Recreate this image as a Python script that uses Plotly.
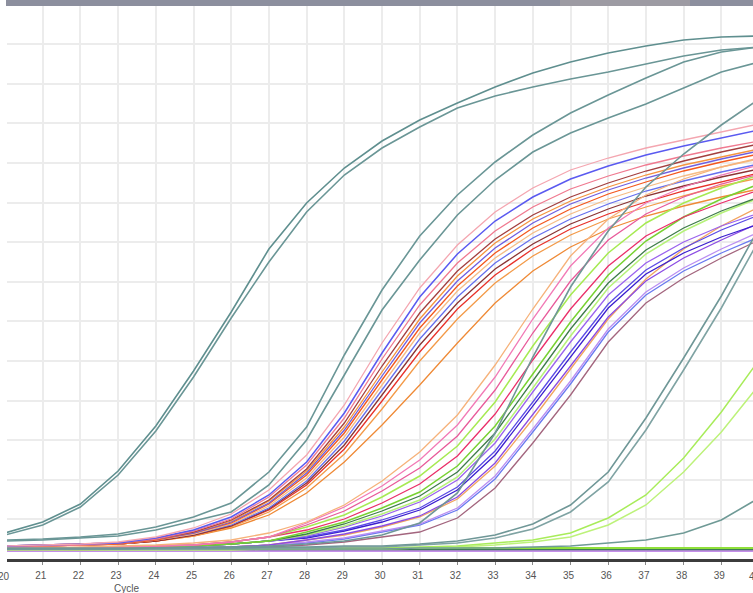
import plotly.graph_objects as go

cycles = list(range(20, 41))

# teal / grey-green wells
T1 = [26,37,55,88,133,188,247,310,356,391,418,439,456,472,486,497,506,513,519,522,523]
T2 = [24,34,52,84,128,182,241,297,347,384,411,432,451,463,472,480,487,495,503,509,512]
T3 = [19,20,22,25,32,42,56,87,132,204,269,323,364,397,424,446,464,481,497,507,512]
T4 = [18,19,21,23,29,38,47,74,119,184,249,299,344,379,407,426,441,455,471,487,497]
T5 = [11,11,11,11,11,12,12,13,15,18,24,36,66,126,202,272,328,372,405,434,460]
T7 = [10,10,10,10,11,11,11,12,12,13,13,15,18,24,35,54,87,141,201,263,331]
T8 = [10,10,10,10,10,10,11,11,11,12,12,14,16,21,30,47,77,129,189,251,319]
T9 = [10,10,10,10,10,10,10,10,10,10,10,11,11,11,12,13,16,19,26,39,61]
L1 = [10,10,10,10,10,10,10,10,10,11,11,12,13,16,19,26,41,64,101,147,199]
L2 = [9,9,9,9,9,9,9,10,10,10,10,11,12,14,17,22,34,54,87,127,174]

# flat (negative) wells
F1 = [10,10,10,10,10,10,10,10,10,10,10,10,10,10,10,10,10,10,10,10,10]
F2 = [8,8,8,8,8,8,8,8,8,8,8,8,8,8,8,8,8,8,8,8,8]
F3 = [11,11,11,11,11,11,11,11,11,11,11,11,11,11,11,11,11,11,11,11,11]
F4 = [9,9,9,9,9,9,9,9,9,9,9,9,9,9,9,9,9,9,9,9,9]

# early colourful group
O1 = [13,14,15,17,22,31,45,69,104,154,216,271,314,347,371,389,401,411,419,427,435]
O2 = [13,14,15,16,21,29,42,64,97,146,206,262,305,338,362,380,393,404,413,421,429]
O3 = [12,13,14,16,20,28,40,62,94,141,200,254,296,328,352,370,383,394,403,411,418]
O4 = [13,14,15,16,20,27,39,59,90,136,193,246,288,320,344,362,376,388,398,407,415]
O5 = [12,13,14,16,20,27,38,58,88,132,187,240,283,316,340,358,372,384,394,402,410]
O6 = [13,14,15,16,20,26,37,56,86,129,183,236,278,311,336,355,369,381,391,400,408]
O7 = [12,13,14,15,19,26,36,55,84,126,179,231,273,306,331,350,365,377,388,397,405]
O8 = [12,13,14,15,19,25,35,53,81,122,174,226,268,301,326,345,360,372,383,392,400]
O9 = [12,13,14,15,19,25,34,51,78,118,169,220,262,296,321,340,355,368,378,387,395]
O10 = [12,13,14,15,18,24,33,50,76,114,164,214,256,290,315,335,350,363,373,382,390]
O11 = [12,13,14,15,18,24,33,49,74,110,158,207,250,284,310,330,345,357,368,377,386]
O12 = [12,13,14,15,18,23,32,47,71,105,150,198,240,276,303,324,340,352,363,373,381]
O13 = [12,13,14,15,18,23,31,44,66,97,134,174,216,256,288,312,330,343,353,362,370]

# later colourful group
P1 = [11,11,12,13,14,16,19,26,37,54,78,107,144,194,250,303,340,364,380,392,401]
P2 = [11,11,11,12,13,14,17,22,36,52,73,99,134,182,240,293,331,356,372,384,394]
P3 = [11,11,11,12,13,14,17,22,34,48,68,91,123,169,226,278,319,345,362,375,385]
P4 = [11,11,11,12,13,14,17,22,32,44,62,83,113,157,213,264,306,336,356,371,384]
P5 = [11,11,11,12,13,14,17,22,29,40,56,75,103,145,199,250,293,323,342,356,369]
P6 = [10,10,11,11,12,13,15,18,27,37,51,67,93,133,185,237,284,318,342,360,375]
P7 = [10,10,11,11,12,13,15,18,25,35,48,63,87,126,178,230,276,309,331,348,362]
P8 = [10,10,11,11,12,13,15,18,24,33,45,59,82,120,171,223,271,305,328,346,361]
P9 = [10,10,11,11,12,13,15,18,23,32,43,57,79,116,167,217,264,296,317,333,346]
P10 = [10,10,11,11,12,13,15,18,22,29,39,51,72,108,157,207,255,289,311,329,344]
P11 = [10,10,11,11,12,13,15,18,21,28,37,49,69,104,153,203,251,285,306,322,335]
P12 = [9,9,10,10,10,11,12,14,19,25,33,43,62,96,144,193,242,278,301,319,336]
P13 = [9,9,10,10,10,11,12,14,19,24,32,42,60,93,140,190,240,280,310,333,352]
P14 = [9,9,10,10,10,11,12,14,17,21,28,35,51,83,130,178,230,267,291,310,327]
P15 = [9,9,10,10,10,11,12,14,16,20,27,34,49,80,127,175,227,264,288,306,322]
P16 = [9,9,9,10,10,10,11,12,14,17,22,27,41,71,116,164,217,256,281,301,319]

x_ticks = list(range(21, 40))

series = [
    (F4, "#8a9a90", 2.5), (F2, "#c48ee8", 2.0), (F1, "#3f7a58", 2.5), (F3, "#8fe03a", 2.0),
    (O13, "#ef8a36", 1.3), (O12, "#f39a48", 1.3), (O11, "#e8322a", 1.3), (O10, "#8b3434", 1.3),
    (O9, "#6670ee", 1.3), (O8, "#f5bd86", 1.3), (O7, "#f4581e", 1.3), (O6, "#6f5fe0", 1.3),
    (O5, "#f59440", 1.3), (O4, "#a33f3f", 1.3), (O3, "#f07a90", 1.3), (O2, "#5a5af0", 1.5),
    (O1, "#f4a6b0", 1.3),
    (P16, "#a3657e", 1.3), (P15, "#6a7af0", 1.3), (P14, "#b98ef2", 1.3), (P13, "#f2a45e", 1.3),
    (P12, "#8c4de3", 1.3), (P11, "#3b1fcf", 1.3), (P10, "#5b4be6", 1.3), (P9, "#9b63ee", 1.3),
    (P8, "#b6f27a", 1.5), (P7, "#3f7d4a", 1.3), (P6, "#78d232", 1.5), (P5, "#ea2f6a", 1.3),
    (P4, "#a6ea52", 1.5), (P3, "#e85a9a", 1.3), (P2, "#f27ab6", 1.3), (P1, "#f6b27a", 1.3),
    (L2, "#bdf27a", 1.5), (L1, "#a8ec5a", 1.5),
    (T9, "#6f9a96", 1.6), (T8, "#7fa3a3", 1.6), (T7, "#6f9797", 1.6), (T5, "#6f9797", 1.6),
    (T4, "#6a9696", 1.6), (T3, "#6a9696", 1.6), (T2, "#6a9696", 1.6), (T1, "#5f8f8f", 1.6),
]

fig = go.Figure()
for vals, col, w in series:
    fig.add_trace(go.Scatter(x=cycles, y=vals, mode="lines",
                             line=dict(color=col, width=w), hoverinfo="skip"))

W, H = 753, 593
ml, mr, mt, mb = 7, 0, 6, 34
pw = W - ml - mr
ph = H - mt - mb

fig.update_layout(
    width=W, height=H,
    margin=dict(l=ml, r=mr, t=mt, b=mb),
    plot_bgcolor="white", paper_bgcolor="white",
    showlegend=False,
    font=dict(family="Liberation Sans, Arial, sans-serif", size=10, color="#555555"),
    xaxis=dict(range=[20.053, 39.84], tickmode="array", tickvals=x_ticks,
               ticktext=[str(t) for t in x_ticks],
               showgrid=True, gridcolor="#ececec", gridwidth=2,
               showline=True, linecolor="#3c3c3c", linewidth=3,
               ticks="outside", ticklen=3, tickcolor="#888888",
               tickfont=dict(size=10, color="#555555"), ticklabelshift=-2,
               ticklabelstandoff=2, zeroline=False),
    yaxis=dict(range=[0, 553], tick0=0, dtick=39.6, showticklabels=False,
               showgrid=True, gridcolor="#ececec", gridwidth=2,
               zeroline=False, showline=False),
    shapes=[
        dict(type="rect", xref="paper", yref="paper", x0=-1/pw, x1=1.0,
             y0=1.0, y1=1 + mt/ph, fillcolor="#8c8f9e", line=dict(width=0), layer="above"),
        dict(type="rect", xref="paper", yref="paper", x0=(560-ml)/pw, x1=(690-ml)/pw,
             y0=1.0, y1=1 + mt/ph, fillcolor="#a8a3a6", opacity=0.6, line=dict(width=0), layer="above"),
    ],
    annotations=[
        dict(text="Cycle", xref="paper", yref="paper", x=(126-ml)/pw, y=-(588-(H-mb))/ph,
             showarrow=False, xanchor="center", yanchor="middle",
             font=dict(size=10, color="#555555")),
        dict(text="20", xref="paper", yref="paper", x=(4-ml)/pw, y=-(576-(H-mb))/ph,
             showarrow=False, xanchor="center", yanchor="middle",
             font=dict(size=10, color="#555555")),
        dict(text="40", xref="paper", yref="paper", x=(755-ml)/pw, y=-(576-(H-mb))/ph,
             showarrow=False, xanchor="center", yanchor="middle",
             font=dict(size=10, color="#555555")),
    ],
)

fig.write_html("out.html")
